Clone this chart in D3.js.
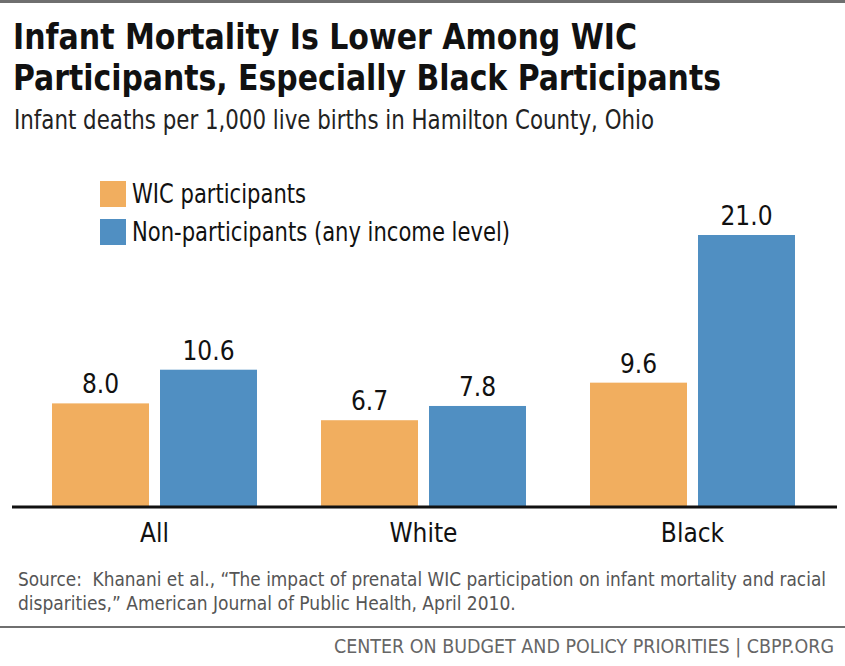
<html>
<head>
    <script src="https://d3js.org/d3.v7.min.js"></script>
    <style>
        body { margin: 0; background: #fff; }
        text { font-family: "Liberation Sans Narrow", "DejaVu Sans Condensed", "Roboto", sans-serif; }
        .title { font-weight: bold; font-size: 35px; fill: #111; }
        .subtitle { font-size: 27px; fill: #222; }
        .legend-label, .cat-label, .val-label { font-size: 26px; fill: #111; }
        .note { font-size: 19px; fill: #555; white-space: pre; }
        .footer { font-size: 19.5px; fill: #666; }
    </style>
</head>
<body>
    <svg id="chart" width="845" height="666"></svg>

    <script>
        // data
        const categories = ["All", "White", "Black"];
        const series = ["WIC participants", "Non-participants (any income level)"];
        const wicValues = [8.0, 6.7, 9.6];
        const nonValues = [10.6, 7.8, 21.0];
        const colors = ["#f1ae5f", "#508fc2"];

        const svg = d3.select("#chart");
        const W = +svg.attr("width");

        // squeeze text to a target width (the original uses a condensed face)
        function fit(sel, w) {
            const len = sel.node().getComputedTextLength();
            if (len > w) sel.attr("textLength", w).attr("lengthAdjust", "spacingAndGlyphs");
            return sel;
        }

        // top rule
        svg.append("rect").attr("x", 0).attr("y", 0).attr("width", W).attr("height", 3).attr("fill", "#6f6f6f");

        fit(svg.append("text").attr("class", "title").attr("x", 13).attr("y", 49)
            .text("Infant Mortality Is Lower Among WIC"), 624);
        fit(svg.append("text").attr("class", "title").attr("x", 13).attr("y", 90)
            .text("Participants, Especially Black Participants"), 708);
        fit(svg.append("text").attr("class", "subtitle").attr("x", 14).attr("y", 129)
            .text("Infant deaths per 1,000 live births in Hamilton County, Ohio"), 640);

        // scales
        const baseY = 507;
        const y = d3.scaleLinear().domain([0, 21]).range([baseY, 235]);
        const x0 = d3.scaleBand().domain(categories).range([20, 827])
            .paddingInner(0.238).paddingOuter(0.119);
        const x1 = d3.scaleBand().domain(series).range([0, x0.bandwidth()]).paddingInner(0.102);
        const color = d3.scaleOrdinal().domain(series).range(colors);

        const rows = categories.map((c, i) => ({ cat: c, vals: [
            { s: series[0], v: wicValues[i] },
            { s: series[1], v: nonValues[i] }
        ]}));

        const groups = svg.append("g").selectAll("g").data(rows).join("g")
            .attr("transform", d => `translate(${x0(d.cat)},0)`);

        groups.selectAll("rect").data(d => d.vals).join("rect")
            .attr("x", d => x1(d.s))
            .attr("y", d => y(d.v))
            .attr("width", x1.bandwidth())
            .attr("height", d => baseY - y(d.v))
            .attr("fill", d => color(d.s));

        groups.selectAll("text.val-label").data(d => d.vals).join("text")
            .attr("class", "val-label")
            .attr("x", d => x1(d.s) + x1.bandwidth() / 2)
            .attr("y", d => y(d.v) - 10)
            .attr("text-anchor", "middle")
            .text(d => d.v.toFixed(1));

        // x axis
        const xAxis = svg.append("g").attr("transform", `translate(0,${baseY})`)
            .call(d3.axisBottom(x0).tickSize(0).tickPadding(13));
        xAxis.select(".domain").remove();
        xAxis.append("line").attr("x1", 12).attr("x2", 837).attr("stroke", "#111").attr("stroke-width", 3);
        xAxis.selectAll(".tick text").attr("class", "cat-label").attr("font-size", null)
            .attr("font-family", null).attr("fill", "#111").attr("dy", "0.85em");

        // legend
        const legend = svg.append("g").attr("transform", "translate(100,181)");
        const li = legend.selectAll("g").data(series).join("g")
            .attr("transform", (d, i) => `translate(0,${i * 38})`);
        li.append("rect").attr("width", 26).attr("height", 26).attr("fill", d => color(d));
        li.append("text").attr("class", "legend-label").attr("x", 32).attr("y", 22).text(d => d)
            .each(function (d, i) { fit(d3.select(this), i ? 378 : 174); });

        // source note
        fit(svg.append("text").attr("class", "note").attr("x", 18).attr("y", 586)
            .text("Source:\u00a0 Khanani et al., \u201cThe impact of prenatal WIC participation on infant mortality and racial"), 808);
        fit(svg.append("text").attr("class", "note").attr("x", 18).attr("y", 610)
            .text("disparities,\u201d American Journal of Public Health, April 2010."), 503);

        // bottom rule + footer
        svg.append("rect").attr("x", 0).attr("y", 626).attr("width", W).attr("height", 2).attr("fill", "#6f6f6f");
        fit(svg.append("text").attr("class", "footer").attr("x", 834).attr("y", 653).attr("text-anchor", "end")
            .text("CENTER ON BUDGET AND POLICY PRIORITIES | CBPP.ORG"), 500);
    </script>
</body>
</html>
